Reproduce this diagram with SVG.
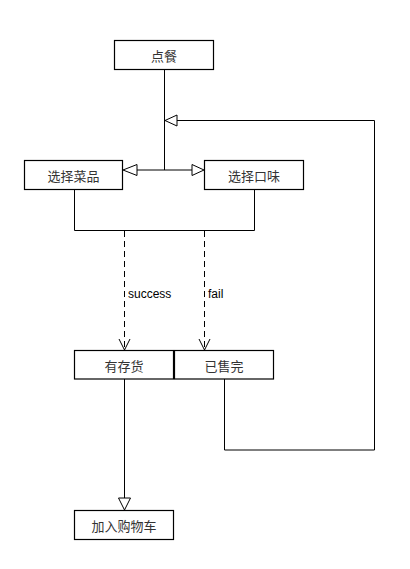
<svg xmlns="http://www.w3.org/2000/svg" width="410" height="569" viewBox="0 0 410 569">
<style>
.box{fill:#fff;stroke:#000;stroke-width:1.2}
.t{font-family:"Noto Sans CJK SC","Liberation Sans",sans-serif;font-size:13px;fill:#333;text-anchor:middle;dominant-baseline:central}
.lbl{font-family:"Liberation Sans",Arial,sans-serif;font-size:12px;fill:#000}
.ln{fill:none;stroke:#000;stroke-width:1}
.dash{fill:none;stroke:#000;stroke-width:1;stroke-dasharray:6,4}
.tri{fill:#fff;stroke:#000;stroke-width:1}
</style>
<rect width="410" height="569" fill="#fff"/>
<g id="connectors">
  <path class="ln" d="M164.5,69 V170 M137,170 H192"/>
  <polygon class="tri" points="123,170 137,164.5 137,175.5"/>
  <polygon class="tri" points="204,170 192,164.5 192,175.5"/>
  <path class="ln" d="M224.5,379 V450 H374.5 V120.5 H177"/>
  <polygon class="tri" points="165,120.5 177,115 177,126"/>
  <path class="ln" d="M74.5,189 V230.5 H254.5 V189"/>
  <path class="dash" d="M124.5,231 V350 M204.5,231 V350"/>
  <path class="ln" d="M119,339 L124.5,350 L130,339 M199,339 L204.5,350 L210,339"/>
  <path class="ln" d="M124.5,379 V498"/>
  <polygon class="tri" points="118.5,498 130.5,498 124.5,510"/>
  <text class="lbl" x="128" y="298">success</text>
  <text class="lbl" x="208" y="298">fail</text>
</g>
<g id="n1"><rect class="box" x="114.5" y="40.5" width="99" height="29"/><text class="t" x="164" y="55">点餐</text></g>
<g id="n2"><rect class="box" x="24.5" y="160.5" width="98" height="29"/><text class="t" x="73.5" y="175">选择菜品</text></g>
<g id="n3"><rect class="box" x="204.5" y="160.5" width="99" height="29"/><text class="t" x="254" y="175">选择口味</text></g>
<g id="n4"><rect class="box" x="74.5" y="350.5" width="99" height="28.5"/><text class="t" x="124" y="365">有存货</text></g>
<g id="n5"><rect class="box" x="174.5" y="350.5" width="99" height="28.5"/><text class="t" x="224" y="365">已售完</text></g>
<g id="n6"><rect class="box" x="74.5" y="510.5" width="99" height="29"/><text class="t" x="124" y="525">加入购物车</text></g>
</svg>
